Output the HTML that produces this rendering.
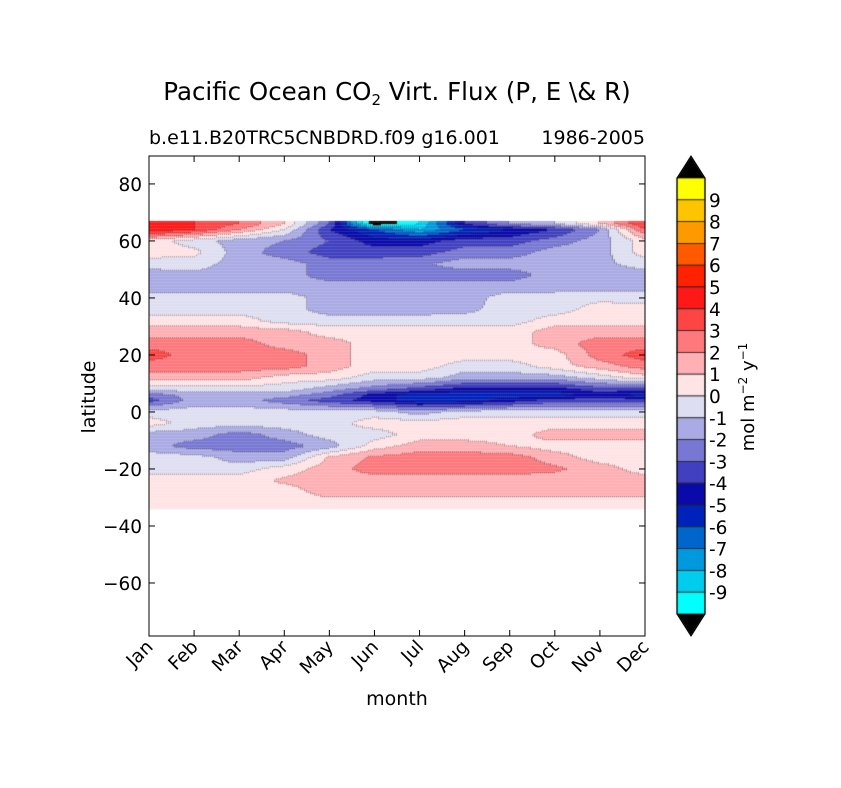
<!DOCTYPE html>
<html><head><meta charset="utf-8"><style>
body{margin:0;background:#fff;}
#wrap{position:relative;width:841px;height:788px;font-family:"DejaVu Sans","Liberation Sans",sans-serif;}
canvas{position:absolute;left:0;top:0;}
svg{position:absolute;left:0;top:0;}
</style></head><body>
<div id="wrap">
<canvas id="cv" width="841" height="788"></canvas>
<svg id="sv" width="841" height="788" font-family="DejaVu Sans, Liberation Sans, sans-serif">
<text x="397" y="100" font-size="24.5" text-anchor="middle">Pacific Ocean CO<tspan font-size="15" dy="5">2</tspan><tspan dy="-5"> Virt. Flux (P, E \&amp; R)</tspan></text>
<text x="149" y="144" font-size="19">b.e11.B20TRC5CNBDRD.f09 g16.001</text>
<text x="645" y="144" font-size="19" text-anchor="end">1986-2005</text>
<text x="397" y="705" font-size="19" text-anchor="middle">month</text>
<text transform="translate(95,397) rotate(-90)" font-size="19" text-anchor="middle">latitude</text>
<text transform="translate(754,397) rotate(-90)" font-size="18" text-anchor="middle">mol m<tspan font-size="12" dy="-7">−2</tspan><tspan dy="7">  y</tspan><tspan font-size="12" dy="-7">−1</tspan></text>
<g id="axes"></g>
</svg>
</div>
<script>
const months=["Jan","Feb","Mar","Apr","May","Jun","Jul","Aug","Sep","Oct","Nov","Dec"];
const lats=[66,64,60,56,52,48,44,40,36,32,28,24,20,16,12,8,6,4,0,-4,-8,-12,-16,-20,-24,-28,-32,-34];
const field=[
[4,4,3,1,-3,-11,-9,-4,-2,-1,1,4],
[5,4,2,0,-4,-6,-8,-6,-5,-4,-2,3],
[0.5,-0.5,-1.5,-2,-3,-4.5,-4.5,-3.5,-3.5,-2.5,-1.5,0.5],
[0.5,0.3,-1.5,-2.5,-3.5,-3.5,-3.5,-2.5,-2.5,-1.5,-1.5,0.5],
[-0.5,-0.5,-1.5,-1.5,-2.5,-2.5,-2.2,-1.5,-1.5,-1.5,-1.3,-0.5],
[-1.5,-1.3,-1.5,-1.5,-2.5,-2.5,-2.5,-2.5,-2.5,-1.5,-1.5,-1.5],
[-1.5,-1.5,-1.5,-1.5,-1.5,-1.5,-1.5,-1.5,-1.5,-1.5,-1.5,-1.5],
[-0.5,-0.5,-0.5,-0.5,-1.5,-1.5,-1.5,-1.5,-0.5,-0.5,-0.3,-0.5],
[-0.5,-0.5,-0.5,-0.5,-1.5,-1.5,-1.5,-1.3,-0.5,-0.5,0.5,0.5],
[0.5,0.5,0.5,-0.5,-0.5,-0.5,-0.5,-0.5,-0.5,0.5,0.5,0.5],
[1.5,1.5,1.5,1.5,0.5,0.5,0.5,0.5,0.5,1.5,1.5,1.5],
[2.5,2.5,2.5,1.5,1.5,0.5,0.5,0.5,0.5,1.5,2.5,2.5],
[3.5,2.5,2.5,2.5,1.5,0.5,0.5,0.5,0.5,0.5,2.5,3.5],
[2.5,2.5,2.5,2.5,1.5,0.5,0.5,-0.5,-0.5,0.5,1.5,2.5],
[1.5,1.5,1.5,0.5,0.5,-0.5,-0.5,-1.5,-1.5,-1.5,-0.5,0.5],
[-0.5,-0.5,-0.5,-0.5,-1.5,-2.5,-3.5,-4.5,-4.5,-4.5,-3.5,-3.5],
[-2.5,-1.5,-1.5,-1.5,-2.5,-4.5,-5.5,-5.5,-5.5,-5.5,-4.5,-5.5],
[-3.5,-1.5,-1.5,-2.5,-3.5,-4.5,-5.5,-5.5,-4.5,-3.5,-3.5,-3.5],
[-0.5,-0.5,-0.5,-0.5,-0.5,-0.5,-1.5,-0.5,-0.5,-0.5,-0.5,-0.5],
[0.5,-0.5,-0.5,-0.5,-0.5,0.5,0.5,0.5,0.5,0.5,0.5,0.5],
[-1.5,-1.5,-2.5,-1.5,-0.5,-0.5,0.5,0.5,0.5,1.5,1.5,1.5],
[-1.5,-2.5,-2.5,-2.5,-1.5,0.5,1.5,1.5,1.0,0.5,0.5,0.5],
[-0.5,-0.5,-1.5,-1.5,1.2,2.2,2.5,2.5,2.5,1.5,0.5,0.5],
[-0.5,-0.5,-0.5,0.5,1.5,2.5,2.5,2.5,2.5,2.2,1.5,0.5],
[0.5,0.5,0.5,1.2,1.5,1.5,1.5,1.5,1.5,1.5,1.5,1.5],
[0.5,0.5,0.5,0.5,1.5,1.5,1.5,1.5,1.5,1.5,1.5,1.5],
[0.5,0.5,0.5,0.5,0.5,0.5,0.5,0.5,0.5,0.5,0.5,0.5],
[0.5,0.5,0.5,0.5,0.5,0.5,0.5,0.5,0.5,0.5,0.5,0.5]];
const levelColors=["#00ffff","#00ccee","#0099dd","#0066cc","#0022bb","#0a0aaa","#4040c0","#7878d4","#aaaae4","#dedef2",
"#ffe4e6","#ffb0b4","#ff787c","#ff4444","#ff1818","#ff2200","#ff5a00","#ff9900","#ffc400","#ffff00"];
const yTicks=[80,60,40,20,0,-20,-40,-60];
const cbLabels=[9,8,7,6,5,4,3,2,1,0,-1,-2,-3,-4,-5,-6,-7,-8,-9];

const X0=149,X1=645,Y0=156,Y1=636,LMAX=89.8,LMIN=-78.6;
const xs=m=>X0+(X1-X0)*m/11;
const ys=l=>Y0+(Y1-Y0)*(LMAX-l)/(LMAX-LMIN);
function binOf(v){return Math.max(-1,Math.min(20,Math.floor(v)+10));}
function colorFor(b){if(b<0||b>19)return"#000";return levelColors[b];}
function sample(m,l){
  let i=0;while(i<lats.length-2&&l<lats[i+1])i++;
  const t=Math.max(0,Math.min(1,(lats[i]-l)/(lats[i]-lats[i+1])));
  const j=Math.min(10,Math.floor(m)),u=m-j;
  const a=field[i][j]*(1-u)+field[i][j+1]*u,b=field[i+1][j]*(1-u)+field[i+1][j+1]*u;
  return a*(1-t)+b*t;}
const ctx=document.getElementById('cv').getContext('2d');
const fieldTop=ys(lats[0]+1),fieldBot=ys(lats[lats.length-1]);
const SX=2,SY=1.5;
const grid=[];
for(let y=fieldTop;y<fieldBot;y+=SY){const row=[];for(let x=X0;x<X1;x+=SX){
  const m=(x+1-X0)/(X1-X0)*11,l=LMAX-(y+0.75-Y0)/(Y1-Y0)*(LMAX-LMIN);
  const b=binOf(sample(m,Math.min(l,lats[0])));row.push(b);
  ctx.fillStyle=colorFor(b);ctx.fillRect(x,y,SX+0.2,SY+0.2);}grid.push(row);}
ctx.fillStyle="rgba(70,60,60,0.55)";
for(let r=0;r<grid.length;r++)for(let c=0;c<grid[r].length;c++){
  const b=grid[r][c];
  if((c+1<grid[r].length&&grid[r][c+1]!==b)||(r+1<grid.length&&grid[r+1][c]!==b))
    ctx.fillRect(X0+c*SX+SX/2,fieldTop+r*SY+SY/2,1,1);}
const CX=677,CW=28,CT=178,CB=614,bh=(CB-CT)/20;
for(let k=0;k<20;k++){ctx.fillStyle=levelColors[19-k];ctx.fillRect(CX,CT+k*bh,CW,bh);
  ctx.strokeStyle="#222";ctx.lineWidth=0.8;ctx.strokeRect(CX,CT+k*bh,CW,bh);}
ctx.fillStyle="#000";ctx.beginPath();ctx.moveTo(CX,CT);ctx.lineTo(CX+CW/2,156);ctx.lineTo(CX+CW,CT);ctx.fill();
ctx.beginPath();ctx.moveTo(CX,CB);ctx.lineTo(CX+CW/2,636);ctx.lineTo(CX+CW,CB);ctx.fill();

const NS="http://www.w3.org/2000/svg",g=document.getElementById('axes');
function el(t,a,txt){const e=document.createElementNS(NS,t);for(const k in a)e.setAttribute(k,a[k]);if(txt!==undefined)e.textContent=txt;g.appendChild(e);return e;}
const fr=el('rect',{x:X0,y:Y0,width:X1-X0,height:Y1-Y0,fill:'none',stroke:'#000','stroke-width':1});


yTicks.forEach(v=>{const y=ys(v);
  el('line',{x1:X0,x2:X0+6,y1:y,y2:y,stroke:'#000'});el('line',{x1:X1,x2:X1-6,y1:y,y2:y,stroke:'#000'});
  const t=el('text',{x:X0-7,y:y+7,'font-size':18.5,'text-anchor':'end'},v<0?'−'+(-v):v);
  
  });
months.forEach((mo,i)=>{const x=xs(i);
  el('line',{x1:x,x2:x,y1:Y1,y2:Y1-6,stroke:'#000'});el('line',{x1:x,x2:x,y1:Y0,y2:Y0+6,stroke:'#000'});
  const t=el('text',{transform:`translate(${x+5},${Y1+12}) rotate(-45)`,'font-size':18.5,'text-anchor':'end'},mo);
  
  });
const cbo=el('path',{d:`M${CX},${CT} L${CX+CW/2},156 L${CX+CW},${CT} L${CX+CW},${CB} L${CX+CW/2},636 L${CX},${CB} Z`,fill:'none',stroke:'#000'});


cbLabels.forEach((v,k)=>{const y=CT+(k+1)*bh;
  const t=el('text',{x:CX+CW+4,y:y+7,'font-size':18.5},v<0?'-'+(-v):v);
  
  });
</script>
</body></html>
